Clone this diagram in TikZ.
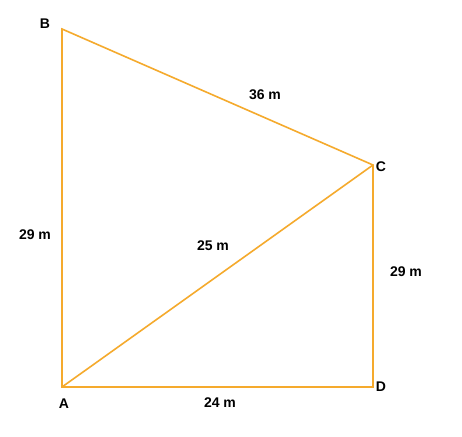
\documentclass[tikz,border=0pt]{standalone}
\usepackage{fontspec}
\setmainfont{Liberation Sans}
\begin{document}
\begin{tikzpicture}[
    x=1pt, y=-1pt,
    side/.style={draw=sideorange, line width=1.6pt, line join=miter},
    vlabel/.style={font=\bfseries\fontsize{14}{16}\selectfont, text=black, inner sep=1pt},
    dlabel/.style={font=\bfseries\fontsize{14}{16}\selectfont, text=black, inner sep=1pt}
]
    \definecolor{sideorange}{RGB}{245,170,45}
    \useasboundingbox[fill=white] (0,0) rectangle (462,436);

    % Corners
    \coordinate (A) at (62,387);
    \coordinate (B) at (62,29);
    \coordinate (C) at (373,165);
    \coordinate (D) at (373,387);

    % Sides
    \draw[side] (A) -- (B) -- (C) -- (D) -- cycle;
    \draw[side] (A) -- (C);

    % Corner names
    \node[vlabel] (labB) at (45,24) {B};
    \node[vlabel] (labC) at (381,167) {C};
    \node[vlabel] (labA) at (64,404) {A};
    \node[vlabel] (labD) at (381,387) {D};

    % Lengths
    \node[dlabel] (lenBC) at (265,95) {36 m};
    \node[dlabel] (lenAB) at (35,235) {29 m};
    \node[dlabel] (lenAC) at (213,246) {25 m};
    \node[dlabel] (lenCD) at (406,272) {29 m};
    \node[dlabel] (lenAD) at (220,403) {24 m};
\end{tikzpicture}
\end{document}
